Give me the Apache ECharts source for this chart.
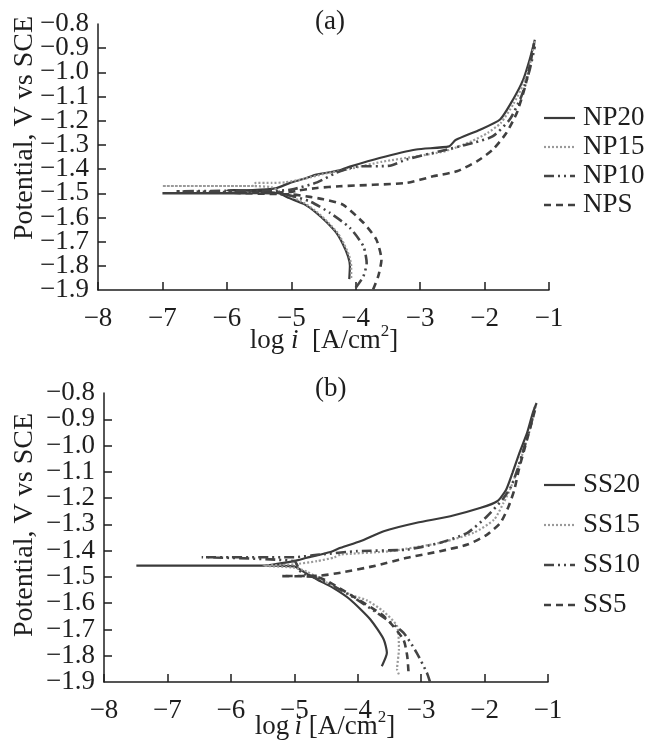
<!DOCTYPE html>
<html>
<head>
<meta charset="utf-8">
<script src="https://cdn.jsdelivr.net/npm/echarts@6/dist/echarts.min.js"></script>
<style>
  html, body { margin: 0; padding: 0; background: #fff; }
  #chart { width: 652px; height: 744px; }
</style>
</head>
<body>
<div id="chart"></div>
<script>
// Potentiodynamic polarization curves: [log i (A/cm2), potential (V vs SCE)]
// Each curve runs from the cathodic end up to Ecorr, out to the low-current spike, then along the anodic branch.

const namesA = ['NP20', 'NP15', 'NP10', 'NPS'];
const namesB = ['SS20', 'SS15', 'SS10', 'SS5'];

const NP20 = [
  [-4.10,-1.855],[-4.09,-1.80],[-4.12,-1.76],[-4.20,-1.71],[-4.30,-1.664],[-4.45,-1.62],
  [-4.61,-1.581],[-4.80,-1.545],[-5.03,-1.52],[-5.20,-1.50],[-5.60,-1.49],[-6.00,-1.488],
  [-5.60,-1.487],[-5.25,-1.48],[-5.02,-1.457],[-4.80,-1.44],[-4.61,-1.423],[-4.25,-1.405],
  [-4.09,-1.39],[-3.63,-1.354],[-3.06,-1.319],[-2.55,-1.306],[-2.45,-1.28],[-2.07,-1.237],
  [-1.76,-1.195],[-1.56,-1.113],[-1.40,-1.03],[-1.30,-0.947],[-1.22,-0.865]
];
const NP15 = [
  [-4.07,-1.85],[-4.07,-1.80],[-4.10,-1.76],[-4.18,-1.71],[-4.28,-1.664],[-4.43,-1.62],
  [-4.59,-1.58],[-4.80,-1.54],[-5.00,-1.515],[-5.20,-1.49],[-5.30,-1.475],[-5.60,-1.47],
  [-7.00,-1.47],[-5.60,-1.47],[-5.55,-1.457],[-5.30,-1.457],[-5.10,-1.455],[-4.80,-1.44],
  [-4.50,-1.42],[-4.10,-1.40],[-3.60,-1.37],[-3.00,-1.345],[-2.60,-1.325],[-2.20,-1.285],
  [-1.95,-1.25],[-1.75,-1.21],[-1.55,-1.13],[-1.40,-1.05],[-1.30,-0.97],[-1.22,-0.87]
];
const NP10 = [
  [-4.00,-1.891],[-3.88,-1.843],[-3.83,-1.788],[-3.88,-1.719],[-4.09,-1.643],[-4.40,-1.581],
  [-4.70,-1.535],[-5.00,-1.51],[-5.30,-1.50],[-6.00,-1.495],[-6.80,-1.492],[-6.00,-1.49],
  [-5.30,-1.49],[-5.00,-1.485],[-4.60,-1.455],[-4.30,-1.415],[-4.00,-1.39],[-3.47,-1.386],
  [-3.21,-1.36],[-2.69,-1.326],[-2.18,-1.292],[-1.87,-1.264],[-1.61,-1.195],[-1.43,-1.10],
  [-1.30,-0.99],[-1.22,-0.893]
];
const NPS = [
  [-3.73,-1.898],[-3.65,-1.843],[-3.60,-1.774],[-3.68,-1.691],[-3.88,-1.622],[-4.20,-1.547],
  [-4.50,-1.525],[-4.71,-1.515],[-5.00,-1.505],[-6.00,-1.50],[-7.00,-1.50],[-6.00,-1.50],
  [-5.00,-1.495],[-4.92,-1.49],[-4.60,-1.478],[-4.25,-1.471],[-3.21,-1.457],[-2.80,-1.43],
  [-2.43,-1.409],[-2.12,-1.368],[-1.87,-1.319],[-1.66,-1.25],[-1.50,-1.168],[-1.37,-1.058],
  [-1.30,-0.975],[-1.23,-0.88]
];

const SS20 = [
  [-3.62,-1.84],[-3.54,-1.789],[-3.59,-1.738],[-3.80,-1.662],[-4.12,-1.586],[-4.40,-1.54],
  [-4.64,-1.51],[-4.91,-1.472],[-5.00,-1.46],[-5.50,-1.457],[-7.49,-1.457],[-5.50,-1.457],
  [-5.01,-1.44],[-4.80,-1.427],[-4.43,-1.405],[-4.27,-1.389],[-3.96,-1.364],[-3.59,-1.326],
  [-3.07,-1.294],[-2.54,-1.269],[-2.06,-1.237],[-1.80,-1.212],[-1.66,-1.168],[-1.56,-1.104],
  [-1.45,-1.028],[-1.33,-0.952],[-1.24,-0.876],[-1.18,-0.838]
];
const SS15 = [
  [-3.35,-1.871],[-3.38,-1.852],[-3.35,-1.776],[-3.38,-1.687],[-3.60,-1.63],[-3.85,-1.59],
  [-4.12,-1.567],[-4.50,-1.52],[-4.80,-1.48],[-5.00,-1.465],[-5.49,-1.457],[-5.00,-1.452],
  [-4.64,-1.44],[-4.37,-1.426],[-4.27,-1.415],[-3.49,-1.402],[-2.70,-1.37],[-2.17,-1.332],
  [-1.85,-1.282],[-1.70,-1.218],[-1.60,-1.168],[-1.50,-1.104],[-1.40,-1.03],[-1.30,-0.952],
  [-1.22,-0.876]
];
const SS10 = [
  [-2.86,-1.90],[-2.91,-1.865],[-3.07,-1.789],[-3.28,-1.712],[-3.70,-1.636],[-4.12,-1.57],
  [-4.50,-1.52],[-4.90,-1.48],[-5.00,-1.44],[-6.46,-1.425],[-5.00,-1.425],[-4.60,-1.415],
  [-4.01,-1.402],[-3.22,-1.396],[-2.70,-1.37],[-2.27,-1.332],[-1.96,-1.269],[-1.72,-1.206],
  [-1.58,-1.155],[-1.48,-1.09],[-1.38,-1.01],[-1.28,-0.93],[-1.20,-0.85]
];
const SS5 = [
  [-3.20,-1.859],[-3.22,-1.80],[-3.28,-1.738],[-3.59,-1.649],[-4.12,-1.567],[-4.45,-1.52],
  [-4.64,-1.50],[-5.20,-1.497],[-4.59,-1.495],[-4.27,-1.484],[-3.75,-1.459],[-3.22,-1.427],
  [-2.70,-1.402],[-2.27,-1.377],[-1.96,-1.339],[-1.75,-1.294],[-1.62,-1.231],[-1.53,-1.168],
  [-1.46,-1.092],[-1.36,-1.003],[-1.26,-0.914],[-1.20,-0.86]
];

const xTicks = { min: -8, max: -1, step: 1 };
const yTicks = { min: -1.9, max: -0.8, step: 0.1 };

const FONT = 'Liberation Serif';
const INK = '#1e1e1e';

// line looks shared by both panels: solid, dotted, dash-dot-dot, dashed
const looks = [
  { color: '#3a3a3a', width: 2.2, type: 'solid' },
  { color: '#9a9a9a', width: 2.2, type: [2, 2] },
  { color: '#454545', width: 2.6, type: [10, 4, 2, 4, 2, 4] },
  { color: '#404040', width: 2.6, type: [7, 5] }
];

const minus = s => s.replace('-', '\u2212');
const near = (a, b) => Math.abs(a - b) < 1e-6;
const tickFont = { fontFamily: FONT, fontSize: 27, fontStyle: 'normal', fontWeight: 'normal', color: INK, lineHeight: 18 };

function xAxis(gridIndex) {
  return {
    type: 'value', gridIndex, min: xTicks.min, max: xTicks.max, interval: xTicks.step,
    axisLine: { lineStyle: { color: INK, width: 1.5 } },
    axisTick: { inside: true, length: 8, lineStyle: { color: INK, width: 1.5 } },
    splitLine: { show: false },
    axisLabel: Object.assign({
      margin: 20, showMinLabel: true, showMaxLabel: true,
      formatter: v => minus(String(Math.round(v)))
    }, tickFont)
  };
}
// main potential axis: line, ticks and the inner labels (the end labels are carried by a twin axis)
function yAxis(gridIndex) {
  return {
    type: 'value', gridIndex, position: 'left', offset: 0,
    min: yTicks.min, max: yTicks.max, interval: yTicks.step,
    axisLine: { show: true, lineStyle: { color: INK, width: 1.5 } },
    axisTick: { show: true, inside: true, length: 8, lineStyle: { color: INK, width: 1.5 } },
    splitLine: { show: false },
    axisLabel: Object.assign({
      margin: 9, showMinLabel: false, showMaxLabel: false,
      formatter: v => minus(v.toFixed(1))
    }, tickFont)
  };
}
// twin axis on the same side that only prints the two end values
function yAxisEnds(gridIndex) {
  return {
    type: 'value', gridIndex, position: 'left', offset: 0,
    min: yTicks.min, max: yTicks.max, interval: yTicks.step,
    axisLine: { show: false }, axisTick: { show: false }, splitLine: { show: false },
    axisLabel: Object.assign({
      margin: 9, showMinLabel: true, showMaxLabel: true,
      formatter: v => (near(v, yTicks.min) || near(v, yTicks.max)) ? minus(v.toFixed(1)) : ''
    }, tickFont)
  };
}

const panels = [
  { names: namesA, data: [NP20, NP15, NP10, NPS], legendRows: [118, 147, 176, 205] },
  { names: namesB, data: [SS20, SS15, SS10, SS5], legendRows: [485, 525, 565, 605] }
];

const series = [];
panels.forEach((p, gi) => {
  p.names.forEach((name, k) => {
    series.push({
      name, type: 'line', xAxisIndex: gi, yAxisIndex: gi,
      data: p.data[k], showSymbol: false, symbol: 'none', smooth: 0.2,
      lineStyle: looks[k], itemStyle: { color: looks[k].color }, animation: false
    });
  });
});

// key: a short sample of each line style with its name
const keyGraphics = [];
panels.forEach(p => {
  p.names.forEach((name, k) => {
    const y = p.legendRows[k];
    const lk = looks[k];
    keyGraphics.push({
      type: 'line', shape: { x1: 544, y1: y, x2: 575, y2: y },
      style: { stroke: lk.color, lineWidth: lk.width, lineDash: lk.type === 'solid' ? null : lk.type }
    });
    keyGraphics.push({
      type: 'text', x: 583, y,
      style: { text: name, font: '27px "Liberation Serif"', fill: INK, align: 'left', verticalAlign: 'middle' }
    });
  });
});

// current-density axis title built from plain text pieces: "log i [A/cm²]"
function unitTitle(cx, cy, gapI, gapB) {
  const base = 27;
  const parts = [
    { t: 'log' + gapI, font: base + 'px "Liberation Serif"' },
    { t: 'i', font: 'italic ' + base + 'px "Liberation Serif"' },
    { t: gapB + '[A/cm', font: base + 'px "Liberation Serif"' },
    { t: '2', font: '17px "Liberation Serif"', sup: true },
    { t: ']', font: base + 'px "Liberation Serif"' }
  ];
  const ctx = document.createElement('canvas').getContext('2d');
  const widths = parts.map(p => { ctx.font = p.font; return ctx.measureText(p.t).width; });
  const total = widths.reduce((a, b) => a + b, 0);
  let x = cx - total / 2;
  return parts.map((p, i) => {
    const el = {
      type: 'text', x, y: p.sup ? cy - 9 : cy,
      style: { text: p.t, font: p.font, fill: INK, align: 'left', verticalAlign: 'middle' }
    };
    x += widths[i];
    return el;
  });
}

const chart = echarts.init(document.getElementById('chart'), null, { renderer: 'canvas' });
chart.setOption({
  animation: false,
  backgroundColor: '#fff',
  textStyle: { fontFamily: FONT },
  title: [
    { text: '(a)', left: 310, top: 3, textStyle: { fontFamily: FONT, fontSize: 27, fontWeight: 'normal', color: INK } },
    { text: '(b)', left: 310, top: 370, textStyle: { fontFamily: FONT, fontSize: 27, fontWeight: 'normal', color: INK } }
  ],
  grid: [
    { left: 98, top: 24, width: 451, height: 266 },
    { left: 104, top: 393, width: 444, height: 289 }
  ],
  xAxis: [xAxis(0), xAxis(1)],
  yAxis: [yAxis(0), yAxis(1), yAxisEnds(0), yAxisEnds(1)],
  series,
  graphic: keyGraphics.concat([
    { type: 'text', x: 25, y: 128, rotation: Math.PI / 2,
      style: { text: 'Potential, V vs SCE', font: '28px "Liberation Serif"', fill: INK, align: 'center', verticalAlign: 'middle' } },
    { type: 'text', x: 25, y: 525, rotation: Math.PI / 2,
      style: { text: 'Potential, V vs SCE', font: '28px "Liberation Serif"', fill: INK, align: 'center', verticalAlign: 'middle' } }
  ], unitTitle(324, 341, ' ', '  '), unitTitle(325, 727, '\u2009', ' '))
});
</script>
</body>
</html>
